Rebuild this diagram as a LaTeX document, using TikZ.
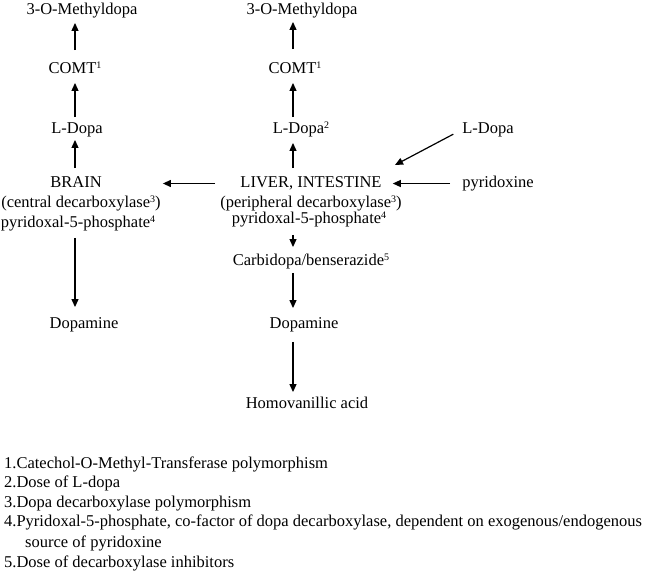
\documentclass[tikz,border=0pt]{standalone}
\usepackage{fontspec}
\setmainfont{Liberation Serif}
\usetikzlibrary{arrows.meta}
\newcommand{\supnum}[1]{\smash{\raisebox{4.5pt}{\fontsize{10}{10}\selectfont #1}}}
\begin{document}
\begin{tikzpicture}[x=1pt,y=-1pt,
  lbl/.style={inner sep=0pt,text height=11pt,text depth=3.5pt,font=\fontsize{16.5}{19}\selectfont},
  foot/.style={inner sep=0pt,anchor=west,text height=11pt,text depth=3.5pt,font=\fontsize{16.5}{19}\selectfont},
  arr/.style={line width=1.2pt,-{Triangle[length=8pt,width=7pt]}}]
\useasboundingbox (0,0) rectangle (648,574);
\coordinate (colL) at (75,0);
\coordinate (colM) at (293,0);
% left column
\node[lbl] (meL) at (82,10.5) {3-O-Methyldopa};
\node[lbl] (comtL) at (75,69.5) {COMT\supnum{1}};
\node[lbl] (ldopaL) at (77,129.5) {L-Dopa};
\node[lbl] (brain) at (76,183.5) {BRAIN};
\node[lbl] (centralL) at (81,203.5) {(central decarboxylase\supnum{3})};
\node[lbl] (p5pL) at (78,223.5) {pyridoxal-5-phosphate\supnum{4}};
\node[lbl] (dopaL) at (84,324.5) {Dopamine};
% middle column
\node[lbl] (meM) at (302,10.5) {3-O-Methyldopa};
\node[lbl] (comtM) at (295,69.5) {COMT\supnum{1}};
\node[lbl] (ldopaM) at (301,129.5) {L-Dopa\supnum{2}};
\node[lbl] (liver) at (311,183.5) {LIVER, INTESTINE};
\node[lbl] (periph) at (311,203.5) {(peripheral decarboxylase\supnum{3})};
\node[lbl] (p5pM) at (309,219.5) {pyridoxal-5-phosphate\supnum{4}};
\node[lbl] (carbi) at (311,261.5) {Carbidopa/benserazide\supnum{5}};
\node[lbl] (dopaM) at (304,324.5) {Dopamine};
\node[lbl] (hva) at (307,404.5) {Homovanillic acid};
% right
\node[lbl] (ldopaR) at (488,129.5) {L-Dopa};
\node[lbl] (pyr) at (498,183.5) {pyridoxine};
\coordinate (ldopaIn) at (395,165);
% arrows left
\draw[arr,shorten <=12pt,shorten >=5pt] (colL |- comtL.north) -- (colL |- meL.south);
\draw[arr,shorten <=5pt,shorten >=6pt] (colL |- ldopaL.north) -- (colL |- comtL.south);
\draw[arr,shorten <=8pt,shorten >=3pt] (colL |- brain.north) -- (colL |- ldopaL.south);
\draw[arr,shorten <=7pt,shorten >=10pt] (colL |- p5pL.south) -- (colL |- dopaL.north);
% arrows middle
\draw[arr,shorten <=13pt,shorten >=4pt] (colM |- comtM.north) -- (colM |- meM.south);
\draw[arr,shorten <=5pt,shorten >=6pt] (colM |- ldopaM.north) -- (colM |- comtM.south);
\draw[arr,shorten <=8pt,shorten >=6pt] (colM |- liver.north) -- (colM |- ldopaM.south);
\draw[arr,shorten <=8pt,shorten >=7pt] (colM |- p5pM.south) -- (colM |- carbi.north);
\draw[arr,shorten <=4pt,shorten >=9pt] (colM |- carbi.south) -- (colM |- dopaM.north);
\draw[arr,shorten <=10pt,shorten >=5pt] (colM |- dopaM.south) -- (colM |- hva.north);
% horizontal and diagonal
\draw[arr,shorten <=5pt,shorten >=2pt] (periph.west |- liver) -- (centralL.east |- brain);
\draw[arr,shorten <=12pt,shorten >=11pt] (pyr.west) -- (liver.east);
\draw[arr,shorten <=10pt] (ldopaR.west) -- (ldopaIn);
% footnotes
\node[foot] (f1) at (4,465) {1.Catechol-O-Methyl-Transferase polymorphism};
\node[foot] (f2) at (4,484) {2.Dose of L-dopa};
\node[foot] (f3) at (4,504) {3.Dopa decarboxylase polymorphism};
\node[foot] (f4) at (4,523) {4.Pyridoxal-5-phosphate, co-factor of dopa decarboxylase, dependent on exogenous/endogenous};
\node[foot] (f4b) at (25,544) {source of pyridoxine};
\node[foot] (f5) at (4,564) {5.Dose of decarboxylase inhibitors};
\end{tikzpicture}
\end{document}
